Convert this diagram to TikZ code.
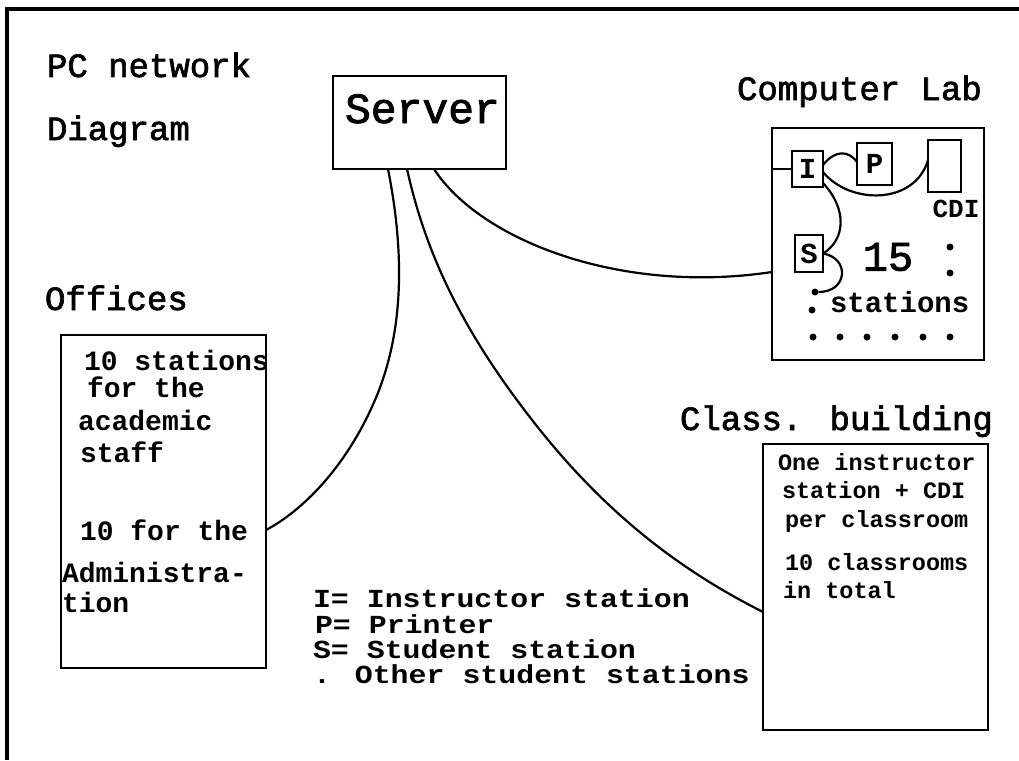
\documentclass[tikz,border=0pt]{standalone}
\usepackage{fontspec}
\setmainfont{Liberation Mono}
\newfontfamily\medmono{Liberation Mono}[FakeBold=2]
\newfontfamily\keymono{Liberation Mono Bold}[FakeStretch=1.15]
\begin{document}
\begin{tikzpicture}[x=1pt,y=-1pt,
  every node/.style={inner sep=0pt, outer sep=0pt},
  txthead/.style={anchor=base west, font=\medmono\fontsize{34}{34}\selectfont},
  txtnote/.style={anchor=base west, font=\bfseries\fontsize{28}{28}\selectfont},
  txtsmall/.style={anchor=base west, font=\bfseries\fontsize{23.5}{23.5}\selectfont},
  txtkey/.style={anchor=base west, font=\keymono\fontsize{26}{26}\selectfont},
  boxed/.style={draw, line width=2.2pt},
  cellbox/.style={draw, line width=2pt, font=\bfseries\fontsize{29}{29}\selectfont},
  wire/.style={line width=2.2pt},
  spot/.style={circle, fill, minimum size=7pt}
]
\useasboundingbox (0,0) rectangle (1019,760);

% sheet border (top and left edges only)
\draw[line width=3.5pt] (1019,9) -- (7,9) -- (7,760);

% title
\node[txthead] (t1) at (47,77) {PC network};
\node[txthead] (t2) at (47,140) {Diagram};

% server
\node[boxed, minimum width=173pt, minimum height=93pt] (server) at (419.5,122.5) {};
\node[anchor=base west, font=\medmono\fontsize{43}{43}\selectfont] (srvtxt) at (345,123) {Server};

% computer lab
\node[txthead] (labtitle) at (737,100) {Computer Lab};
\node[boxed, minimum width=212pt, minimum height=232pt] (lab) at (878,244) {};
\node[cellbox, minimum width=31pt, minimum height=36pt] (ist) at (807.5,169) {I};
\node[cellbox, minimum width=35pt, minimum height=42pt] (prn) at (874.5,164) {P};
\node[cellbox, minimum width=33pt, minimum height=52pt] (cdi) at (944.5,166) {};
\node[anchor=base, font=\bfseries\fontsize{26}{26}\selectfont] (cditxt) at (956,217) {CDI};
\node[cellbox, minimum width=28pt, minimum height=37pt] (stu) at (809,253.5) {S};
\node[font=\medmono\fontsize{42}{42}\selectfont] (fifteen) at (888,257) {15};
\node[spot] (c1) at (950,247) {};
\node[spot] (c2) at (950,273) {};
\node[spot] (tail) at (815,292) {};
\node[spot] (d0) at (812,310) {};
\node[anchor=base west, font=\bfseries\fontsize{29}{29}\selectfont] (stations) at (830,312) {stations};
\foreach \i/\x in {1/813,2/840,3/867,4/895,5/923,6/950}
  \node[spot] (r\i) at (\x,337) {};

\draw[wire] (lab.west |- ist.west) -- (ist.west);
\draw[wire] ([yshift=4pt]ist.east) .. controls (835,150) and (848,150) .. ([yshift=2pt]prn.west);
\draw[wire] ([yshift=-3pt]ist.east) .. controls (850,205) and (915,205) .. ([yshift=6pt]cdi.west);
\draw[wire] ([yshift=4pt]ist.south east) .. controls (848,210) and (845,240) .. (stu.east);
\draw[wire] (stu.east) .. controls (850,258) and (848,292) .. (tail);

% offices
\node[txthead] (offlabel) at (45,310) {Offices};
\node[boxed, minimum width=205pt, minimum height=333pt] (offices) at (163.5,501.5) {};
\node[txtnote] (o1) at (84,370) {10 stations};
\node[txtnote] (o2) at (87,397) {for the};
\node[txtnote] (o3) at (78,430) {academic};
\node[txtnote] (o4) at (80,462) {staff};
\node[txtnote] (o5) at (80,540) {10 for the};
\node[txtnote] (o6) at (62,582) {Administra-};
\node[txtnote] (o7) at (62,612) {tion};

% classroom building
\node[txthead] (classlabel) at (680,430) {Class. building};
\node[boxed, minimum width=225pt, minimum height=286pt] (classbox) at (875.5,587) {};
\node[txtsmall] (k1) at (778,470) {One instructor};
\node[txtsmall] (k2) at (782,498) {station + CDI};
\node[txtsmall] (k3) at (785,527) {per classroom};
\node[txtsmall] (k4) at (785,570) {10 classrooms};
\node[txtsmall] (k5) at (783,598) {in total};

% legend
\node[txtkey] (l1) at (313,607) {I= Instructor station};
\node[txtkey] (l2) at (315,633) {P= Printer};
\node[txtkey] (l3) at (313,658) {S= Student station};
\node[txtkey] (l4) at (313,683) {. Other student stations};

% cables from the server
\draw[wire] ([xshift=55pt]server.south west) .. controls (404,250) and (405,330) .. (375,400)
  .. controls (345,470) and (300,512) .. ([yshift=-28.5pt]offices.east);
\draw[wire] ([xshift=74pt]server.south west) .. controls (425,250) and (460,330) .. (540,430)
  .. controls (620,530) and (700,580) .. ([yshift=-25pt]classbox.west);
\draw[wire] ([xshift=101pt]server.south west) .. controls (480,240) and (620,295) .. ([yshift=-28pt]lab.west);
\end{tikzpicture}
\end{document}
